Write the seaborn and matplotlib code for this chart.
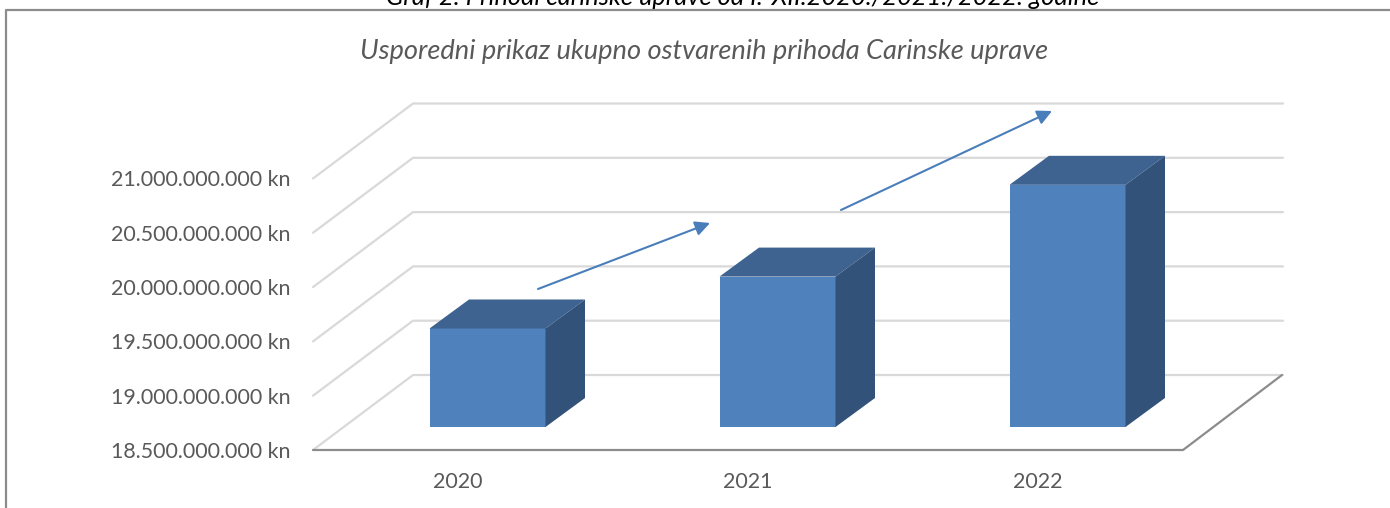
import numpy as np
import pandas as pd
import matplotlib
matplotlib.use("Agg")
import matplotlib.pyplot as plt
import seaborn as sns
from matplotlib.patches import Polygon
from matplotlib.transforms import Affine2D

years = ['2020', '2021', '2022']
revenue = [19.407e9, 19.885e9, 20.73e9]
y_ticks = [18.5e9, 19e9, 19.5e9, 20e9, 20.5e9, 21e9]
y_tick_labels = ['18.500.000.000 kn', '19.000.000.000 kn', '19.500.000.000 kn',
                 '20.000.000.000 kn', '20.500.000.000 kn', '21.000.000.000 kn']
chart_title = 'Usporedni prikaz ukupno ostvarenih prihoda Carinske uprave'
caption = 'Graf 2. Prihodi carinske uprave od I.-XII.2020./2021./2022. godine'

W, H = 1390, 508
GRID = '#d9d9d9'
FLOOR = '#8c8c8c'
TEXT = '#595959'
FRONT = '#4f81bd'
TOP = '#3e6390'
SIDE = '#32527a'
ARROW = '#4a7ebb'

sns.set_theme(style='white')
plt.rcParams['font.family'] = ['Lato', 'DejaVu Sans']

fig = plt.figure(figsize=(W / 100, H / 100), dpi=100)
# front plane of the chart box, in pixels: x 313..1183, baseline y 450
ax = fig.add_axes([313 / W, 1 - 450 / H, 870 / W, 271.5 / H])

# pixel overlay for frame, caption and arrows
px = fig.add_axes([0, 0, 1, 1], zorder=5)
px.set_xlim(0, W)
px.set_ylim(H, 0)
px.axis('off')

df = pd.DataFrame({'year': years, 'revenue': revenue})
sns.barplot(data=df, x='year', y='revenue', color=FRONT, saturation=1, width=0.4,
            linewidth=0, ax=ax, zorder=3)
ax.set_ylim(y_ticks[0], y_ticks[-1])
ax.set_xlim(-0.5, 2.5)

# depth of the box and of the bars, in pixels
box_dx, box_dy = 100, 75
off_x, off_y = 29.5, 23
depth_dx, depth_dy = 39.5, 29

to_px = ax.transData
for v in y_ticks:
    _, ypx = to_px.transform((0, v))
    ax.plot([0, box_dx, 970], [0, box_dy, box_dy], color=GRID, lw=1.6, zorder=1,
            transform=Affine2D().translate(ax.bbox.x0, ypx), clip_on=False)

# floor front edge and right edge
y0 = to_px.transform((0, y_ticks[0]))[1]
ax.plot([0, 870, 869 + box_dx], [0, 0, box_dy], color=FLOOR, lw=1.6, zorder=2,
        transform=Affine2D().translate(ax.bbox.x0, y0), clip_on=False)

# shift bars back into the box and add the top and side faces
for bar in list(ax.patches):
    x0, x1 = bar.get_x(), bar.get_x() + bar.get_width()
    top = bar.get_height()
    bar.set_y(y_ticks[0])
    bar.set_height(top - y_ticks[0])
    (ax0, ay0), (ax1, ay1) = to_px.transform([(x0, y_ticks[0]), (x1, top)])
    ax0, ax1 = ax0 + off_x, ax1 + off_x
    ay0, ay1 = ay0 + off_y, ay1 + off_y
    bar.set_transform(to_px + Affine2D().translate(off_x, off_y))
    bar.set_clip_on(False)
    ax.add_patch(Polygon([(ax0, ay1), (ax1, ay1), (ax1 + depth_dx, ay1 + depth_dy), (ax0 + depth_dx, ay1 + depth_dy)],
                         closed=True, fc=TOP, ec='none', transform=None, zorder=3, clip_on=False))
    ax.add_patch(Polygon([(ax1, ay0), (ax1 + depth_dx, ay0 + depth_dy), (ax1 + depth_dx, ay1 + depth_dy), (ax1, ay1)],
                         closed=True, fc=SIDE, ec='none', transform=None, zorder=3, clip_on=False))

ax.set_facecolor('none')
sns.despine(ax=ax, left=True, bottom=True, right=True, top=True)
ax.set_xlabel('')
ax.set_ylabel('')
ax.set_yticks(y_ticks)
ax.set_yticklabels(y_tick_labels, fontsize=15.4, color=TEXT)
ax.tick_params(axis='y', length=0, pad=16)
ax.tick_params(axis='x', length=0, pad=16, labelsize=15.4, labelcolor=TEXT)

# chart frame, runs off the page at the bottom and right
px.plot([6, 6, W], [H, 10, 10], color=FLOOR, lw=1.6)

px.text(704, 52, chart_title, fontsize=19.6, style='italic', color=TEXT, ha='center', va='center')
px.text(743, 5, caption, fontsize=18.3, style='italic', color='black', ha='center', va='baseline')

px.annotate('', xy=(710, 223), xytext=(538, 289),
            arrowprops=dict(arrowstyle='-|>', color=ARROW, lw=1.5, mutation_scale=22, shrinkA=0, shrinkB=0))
px.annotate('', xy=(1052, 111), xytext=(841, 210),
            arrowprops=dict(arrowstyle='-|>', color=ARROW, lw=1.5, mutation_scale=22, shrinkA=0, shrinkB=0))

fig.savefig('out.png', dpi=100)
